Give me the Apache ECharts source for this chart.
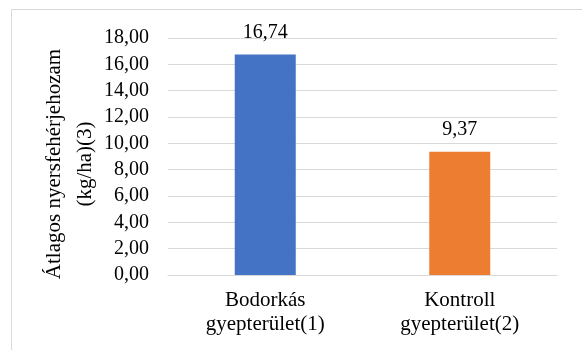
<!DOCTYPE html>
<html>
<head>
<meta charset="utf-8">
<script src="https://cdn.jsdelivr.net/npm/echarts@6/dist/echarts.min.js"></script>
</head>
<body style="margin:0;background:#fff">
<div id="main" style="width:582px;height:350px"></div>
<script>
const categories = ['Bodorkás\ngyepterület(1)', 'Kontroll\ngyepterület(2)'];
const values = [16.74, 9.37];
const barColors = ['#4472C4', '#ED7D31'];
const yAxisTitle = 'Átlagos nyersfehérjehozam\n(kg/ha)(3)';
const yMin = 0, yMax = 18, yStep = 2;

const FONT = 'Liberation Serif';
const fmt = v => v.toFixed(2).replace('.', ',');

const chart = echarts.init(document.getElementById('main'));
chart.setOption({
  animation: false,
  textStyle: {fontFamily: FONT},
  grid: {left: 168, right: 25, top: 38, bottom: 75},
  graphic: [
    {type: 'rect', shape: {x: 11.5, y: 9.5, width: 700, height: 500},
     style: {fill: 'none', stroke: '#d9d9d9', lineWidth: 1}, z: -1},
    {type: 'text', x: 70, y: 164, rotation: Math.PI / 2,
     style: {text: yAxisTitle, fontFamily: FONT, fontSize: 21, fill: '#000',
             align: 'center', verticalAlign: 'middle', lineHeight: 31}}
  ],
  xAxis: {
    type: 'category',
    data: categories,
    axisLine: {show: true, lineStyle: {color: '#d9d9d9', width: 1}},
    axisTick: {show: false},
    axisLabel: {color: '#000', fontFamily: FONT, fontSize: 21, lineHeight: 24, margin: 13, interval: 0}
  },
  yAxis: {
    type: 'value',
    min: yMin, max: yMax, interval: yStep,
    axisLine: {show: false},
    axisTick: {show: false},
    splitLine: {lineStyle: {color: '#d9d9d9', width: 1}},
    axisLabel: {color: '#000', fontFamily: FONT, fontSize: 20, margin: 19, formatter: v => fmt(v)}
  },
  series: [{
    type: 'bar',
    data: values.map((v, i) => ({value: v, itemStyle: {color: barColors[i]}})),
    barWidth: 61,
    label: {show: true, position: 'top', distance: 12, color: '#000', fontFamily: FONT, fontSize: 20,
            formatter: p => fmt(p.value)}
  }]
});
</script>
</body>
</html>
